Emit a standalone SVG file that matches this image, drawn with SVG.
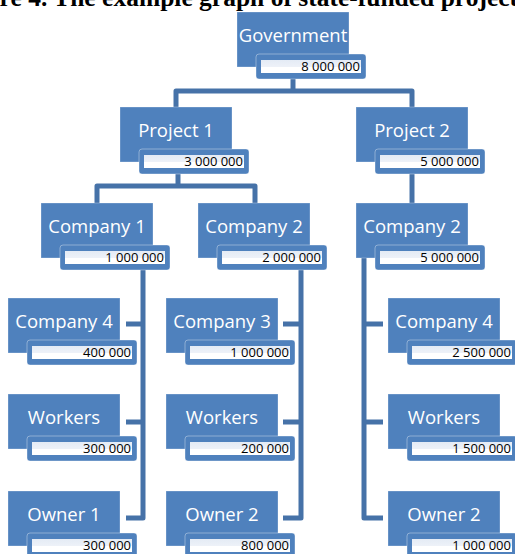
<svg xmlns="http://www.w3.org/2000/svg" width="515" height="554" viewBox="0 0 515 554">
<defs>
<linearGradient id="vg" x1="0" y1="0" x2="0" y2="1">
<stop offset="0" stop-color="#E4EBF5"/>
<stop offset="0.5" stop-color="#EDF1F8"/>
<stop offset="0.55" stop-color="#FFFFFF"/>
<stop offset="1" stop-color="#FFFFFF"/>
</linearGradient>
<g id="box">
<rect class="main" x="0" y="0" width="112" height="55"/>
<rect class="vout" x="19" y="42" width="110" height="25" rx="3"/>
<rect class="vin" x="24" y="48" width="100" height="13"/>
</g>
</defs>
<style>
.main{fill:#4F81BD;stroke:#FFFFFF;stroke-opacity:0.35;stroke-width:0.8}
.vout{fill:#4F81BD;stroke:#FFFFFF;stroke-opacity:0.45;stroke-width:0.8}
.vin{fill:url(#vg)}
.lbl{font-family:"Open Sans","Noto Sans",sans-serif;font-size:18.5px;fill:#FFFFFF;text-anchor:middle}
.num{font-family:"Open Sans","Noto Sans",sans-serif;font-size:13px;fill:#000000;text-anchor:end}
.conn{fill:none;stroke:#4672A8;stroke-width:5;stroke-linejoin:round}
.title{font-family:"Liberation Serif",serif;font-weight:bold;font-size:25.5px;fill:#000}
</style>
<rect width="515" height="554" fill="#FFFFFF"/>
<text class="title" x="-50" y="6">Figure 4. The example graph of state-funded projects</text>
<g id="connectors">
<path class="conn" d="M293,79 V91"/>
<path class="conn" d="M176,107 V91 H412 V107"/>
<path class="conn" d="M178,174 V186"/>
<path class="conn" d="M97,203 V186 H255 V203"/>
<path class="conn" d="M412,174 V203"/>
<path class="conn" d="M143,270 V518 H126 M143,324 H126 M143,422 H126"/>
<path class="conn" d="M301,270 V518 H283 M301,324 H283 M301,422 H283"/>
<path class="conn" d="M364,258 V518 H383 M364,324 H383 M364,422 H383"/>
</g>
<g id="government" transform="translate(237,12)"><use href="#box"/><text class="lbl" x="56" y="29.5">Government</text><text class="num" x="123" y="59">8 000 000</text></g>
<g id="project1" transform="translate(120,107)"><use href="#box"/><text class="lbl" x="56" y="29.5">Project 1</text><text class="num" x="123" y="59">3 000 000</text></g>
<g id="project2" transform="translate(356,107)"><use href="#box"/><text class="lbl" x="56" y="29.5">Project 2</text><text class="num" x="123" y="59">5 000 000</text></g>
<g id="company1" transform="translate(41,203)"><use href="#box"/><text class="lbl" x="56" y="29.5">Company 1</text><text class="num" x="123" y="59">1 000 000</text></g>
<g id="company2a" transform="translate(198,203)"><use href="#box"/><text class="lbl" x="56" y="29.5">Company 2</text><text class="num" x="123" y="59">2 000 000</text></g>
<g id="company2b" transform="translate(356,203)"><use href="#box"/><text class="lbl" x="56" y="29.5">Company 2</text><text class="num" x="123" y="59">5 000 000</text></g>
<g id="company4a" transform="translate(8,298)"><use href="#box"/><text class="lbl" x="56" y="29.5">Company 4</text><text class="num" x="123" y="59">400 000</text></g>
<g id="workers1" transform="translate(8,394)"><use href="#box"/><text class="lbl" x="56" y="29.5">Workers</text><text class="num" x="123" y="59">300 000</text></g>
<g id="owner1" transform="translate(8,491)"><use href="#box"/><text class="lbl" x="56" y="29.5">Owner 1</text><text class="num" x="123" y="59">300 000</text></g>
<g id="company3" transform="translate(166,298)"><use href="#box"/><text class="lbl" x="56" y="29.5">Company 3</text><text class="num" x="123" y="59">1 000 000</text></g>
<g id="workers2" transform="translate(166,394)"><use href="#box"/><text class="lbl" x="56" y="29.5">Workers</text><text class="num" x="123" y="59">200 000</text></g>
<g id="owner2a" transform="translate(166,491)"><use href="#box"/><text class="lbl" x="56" y="29.5">Owner 2</text><text class="num" x="123" y="59">800 000</text></g>
<g id="company4b" transform="translate(388,298)"><use href="#box"/><text class="lbl" x="56" y="29.5">Company 4</text><text class="num" x="123" y="59">2 500 000</text></g>
<g id="workers3" transform="translate(388,394)"><use href="#box"/><text class="lbl" x="56" y="29.5">Workers</text><text class="num" x="123" y="59">1 500 000</text></g>
<g id="owner2b" transform="translate(388,491)"><use href="#box"/><text class="lbl" x="56" y="29.5">Owner 2</text><text class="num" x="123" y="59">1 000 000</text></g>
</svg>
